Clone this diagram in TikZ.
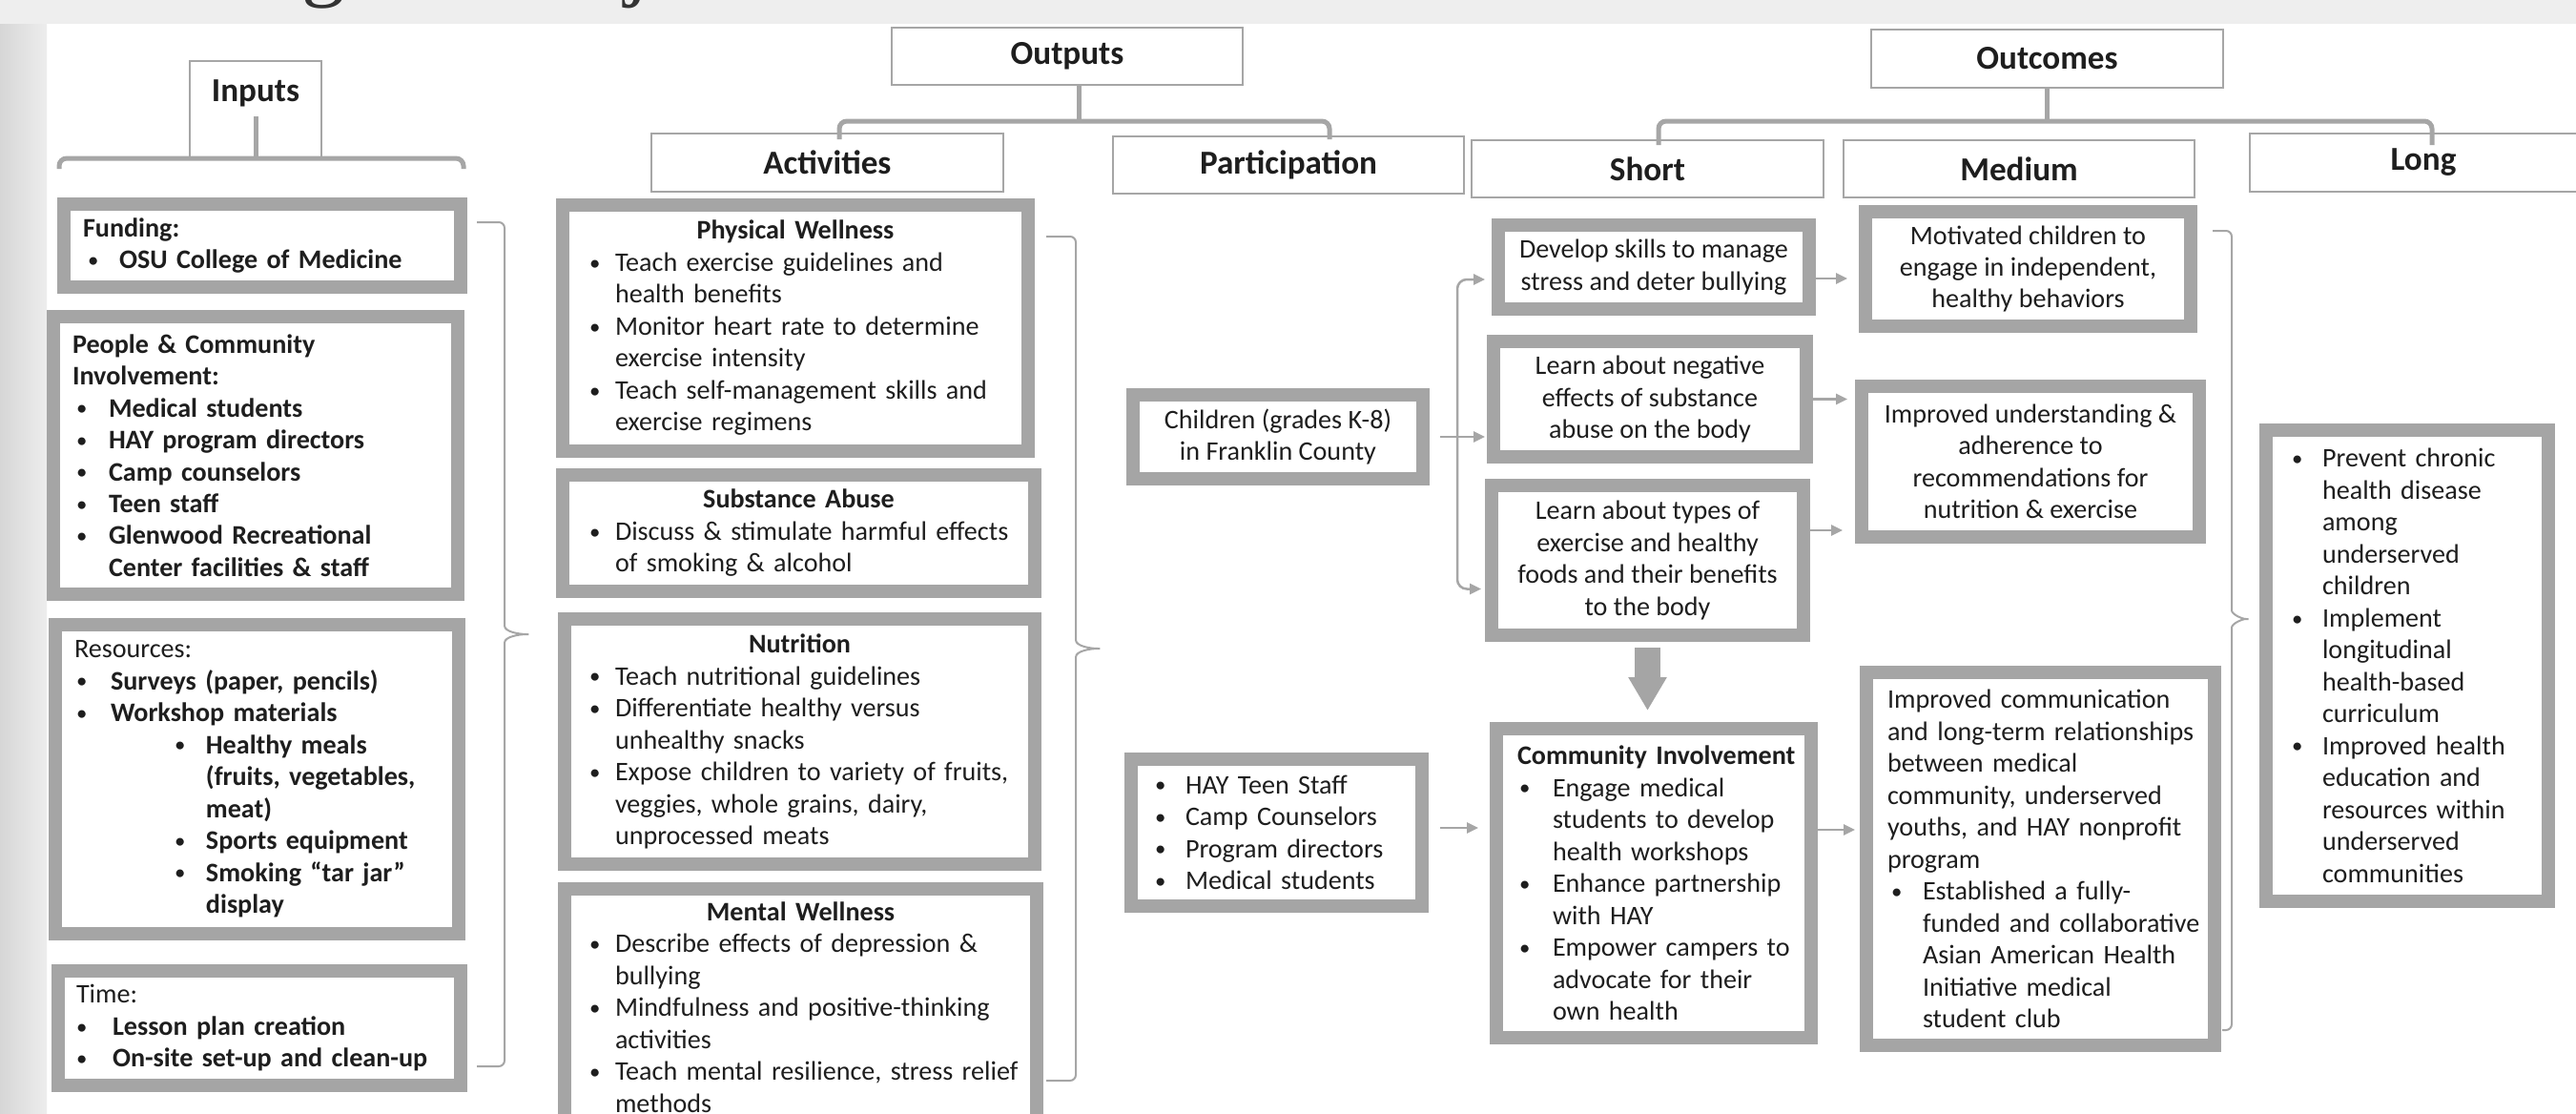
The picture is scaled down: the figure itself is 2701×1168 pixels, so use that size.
\documentclass[tikz,border=0pt]{standalone}
\usepackage{fontspec}
\setmainfont{Carlito}
\newfontfamily\titlefont{Liberation Serif}
\usetikzlibrary{arrows.meta,calc}
\definecolor{boxgrey}{HTML}{A5A5A5}
\definecolor{linegrey}{HTML}{A6A6A6}
\definecolor{bandgrey}{HTML}{EEEEEE}
\definecolor{txt}{HTML}{1E1E1E}
\newcommand{\bodyfont}{\fontsize{8}{9.53}\selectfont}
\newcommand{\bulmark}{\raisebox{0.4pt}{\mdseries\fontsize{6.5}{6.5}\selectfont\textbullet}}
\newcommand{\bul}[3]{\hspace*{#1}\makebox[#2][l]{\bulmark}\mbox{#3}}
\newcommand{\cnt}[2]{\hspace*{#1}\mbox{#2}}

\begin{document}
\begin{tikzpicture}[x=0.1mm, y=-0.1mm,
    headbox/.style={rectangle, draw=linegrey, line width=0.2mm, fill=white, text=txt, font=\fontsize{10}{12}\selectfont\bfseries},
    thickbox/.style={rectangle, draw=boxgrey, line width=1.4mm, fill=white, text=txt, inner sep=0pt, font=\bodyfont},
    leftbox/.style={thickbox, align=left},
    midbox/.style={thickbox, align=center},
    brk/.style={draw=linegrey, line width=0.5mm, rounded corners=0.8mm},
    brace/.style={draw=linegrey, line width=0.2mm, rounded corners=0.6mm},
    conn/.style={draw=linegrey, line width=0.25mm, -{Triangle[length=1.2mm,width=1.1mm]}},
    bigarr/.style={draw=boxgrey, line width=2.7mm, -{Triangle[length=3.5mm,width=3.8mm]}}]

    \useasboundingbox (0,0) rectangle (2701,1168);
    \clip (0,0) rectangle (2701,1168);

    % Background
    \fill[white] (0,0) rectangle (2701,1168);
    \fill[bandgrey] (0,0) rectangle (2701,25);
    \shade[left color=black!16, right color=black!7] (0,25) rectangle (49,1168);
    \node[font=\titlefont\fontsize{26}{26}\selectfont, text=black!80, anchor=base] (tg) at (339,-10) {g};
    \node[font=\titlefont\fontsize{26}{26}\selectfont, text=black!80, anchor=base] (tj) at (668,-10) {j};

    % Headers
    \node[headbox, minimum width=1.38cm, minimum height=1.01cm, text height=7pt, text depth=11.6pt] (inpH) at (268,114.5) {Inputs};
    \node[headbox, minimum width=3.68cm, minimum height=0.60cm] (outH) at (1119,59) {Outputs};
    \node[headbox, minimum width=3.69cm, minimum height=0.61cm] (outcH) at (2146.5,61.5) {Outcomes};
    \node[headbox, minimum width=3.69cm, minimum height=0.61cm] (actH) at (867.5,170.5) {Activities};
    \node[headbox, minimum width=3.68cm, minimum height=0.60cm] (partH) at (1351,173) {Participation};
    \node[headbox, minimum width=3.69cm, minimum height=0.60cm] (shortH) at (1727.5,177) {Short};
    \node[headbox, minimum width=3.68cm, minimum height=0.60cm] (medH) at (2117,177) {Medium};
    \node[headbox, minimum width=3.64cm, minimum height=0.61cm] (longH) at (2541,170.5) {Long};

    % Inputs
    \node[leftbox, minimum width=4.16cm, minimum height=0.87cm, text width=3.76cm] (fund) at (275,257.5) {
        \bfseries Funding:\\
        \bul{0.5mm}{3.3mm}{OSU College of Medicine}};
    \node[leftbox, minimum width=4.24cm, minimum height=2.91cm, text width=3.84cm] (people) at (268,477.5) {
        \bfseries People \& Community\\
        Involvement:\\
        \bul{0.4mm}{3.4mm}{Medical students}\\
        \bul{0.4mm}{3.4mm}{HAY program directors}\\
        \bul{0.4mm}{3.4mm}{Camp counselors}\\
        \bul{0.4mm}{3.4mm}{Teen staff}\\
        \bul{0.4mm}{3.4mm}{Glenwood Recreational}\\
        \cnt{3.8mm}{Center facilities \& staff}};
    \node[leftbox, minimum width=4.23cm, minimum height=3.24cm, text width=3.83cm] (res) at (269.5,817) {
        Resources:\\
        \bfseries\bul{0.2mm}{3.6mm}{Surveys (paper, pencils)}\\
        \bul{0.2mm}{3.6mm}{Workshop materials}\\
        \bul{10.5mm}{3.3mm}{Healthy meals}\\
        \cnt{13.8mm}{(fruits, vegetables,}\\
        \cnt{13.8mm}{meat)}\\
        \bul{10.5mm}{3.3mm}{Sports equipment}\\
        \bul{10.5mm}{3.3mm}{Smoking “tar jar”}\\
        \cnt{13.8mm}{display}};
    \node[leftbox, minimum width=4.22cm, minimum height=1.20cm, text width=3.84cm] (time) at (272,1078) {
        Time:\\
        \bfseries\bul{0mm}{3.8mm}{Lesson plan creation}\\
        \bul{0mm}{3.8mm}{On-site set-up and clean-up}};

    % Activities
    \node[leftbox, minimum width=4.88cm, minimum height=2.58cm, text width=4.40cm] (phys) at (834,344) {
        \makebox[\linewidth]{\bfseries Physical Wellness}\\
        \bul{0.4mm}{2.7mm}{Teach exercise guidelines and}\\
        \cnt{3.1mm}{health benefits}\\
        \bul{0.4mm}{2.7mm}{Monitor heart rate to determine}\\
        \cnt{3.1mm}{exercise intensity}\\
        \bul{0.4mm}{2.7mm}{Teach self-management skills and}\\
        \cnt{3.1mm}{exercise regimens}};
    \node[leftbox, minimum width=4.95cm, minimum height=1.22cm, text width=4.47cm] (subst) at (837.5,559) {
        \makebox[\linewidth]{\bfseries Substance Abuse}\\
        \bul{0.4mm}{2.7mm}{Discuss \& stimulate harmful effects}\\
        \cnt{3.1mm}{of smoking \& alcohol}};
    \node[leftbox, minimum width=4.93cm, minimum height=2.57cm, text width=4.49cm] (nutr) at (838.5,777.5) {
        \makebox[\linewidth]{\bfseries Nutrition}\\
        \bul{0.4mm}{2.7mm}{Teach nutritional guidelines}\\
        \bul{0.4mm}{2.7mm}{Differentiate healthy versus}\\
        \cnt{3.1mm}{unhealthy snacks}\\
        \bul{0.4mm}{2.7mm}{Expose children to variety of fruits,}\\
        \cnt{3.1mm}{veggies, whole grains, dairy,}\\
        \cnt{3.1mm}{unprocessed meats}};
    \node[leftbox, minimum width=4.95cm, minimum height=2.48cm, text width=4.51cm] (mental) at (839.5,1056) {
        \makebox[\linewidth]{\bfseries Mental Wellness}\\
        \bul{0.4mm}{2.7mm}{Describe effects of depression \&}\\
        \cnt{3.1mm}{bullying}\\
        \bul{0.4mm}{2.7mm}{Mindfulness and positive-thinking}\\
        \cnt{3.1mm}{activities}\\
        \bul{0.4mm}{2.7mm}{Teach mental resilience, stress relief}\\
        \cnt{3.1mm}{methods}};

    % Participation
    \node[midbox, minimum width=3.04cm, minimum height=0.88cm] (kids) at (1340,458) {Children (grades K-8)\\in Franklin County};
    \node[leftbox, minimum width=3.05cm, minimum height=1.54cm, text width=2.55cm] (hay) at (1338.5,873) {
        \bul{0mm}{3.2mm}{HAY Teen Staff}\\
        \bul{0mm}{3.2mm}{Camp Counselors}\\
        \bul{0mm}{3.2mm}{Program directors}\\
        \bul{0mm}{3.2mm}{Medical students}};

    % Short
    \node[midbox, minimum width=3.26cm, minimum height=0.88cm] (dev) at (1734,280) {Develop skills to manage\\stress and deter bullying};
    \node[midbox, minimum width=3.28cm, minimum height=1.21cm] (neg) at (1730,418.5) {Learn about negative\\effects of substance\\abuse on the body};
    \node[midbox, minimum width=3.27cm, minimum height=1.57cm] (types) at (1727.5,587.5) {Learn about types of\\exercise and healthy\\foods and their benefits\\to the body};
    \node[leftbox, minimum width=3.30cm, minimum height=3.24cm, text width=2.86cm] (comm) at (1734,926) {
        \mbox{\bfseries Community Involvement}\\
        \bul{0.2mm}{3.5mm}{Engage medical}\\
        \cnt{3.7mm}{students to develop}\\
        \cnt{3.7mm}{health workshops}\\
        \bul{0.2mm}{3.5mm}{Enhance partnership}\\
        \cnt{3.7mm}{with HAY}\\
        \bul{0.2mm}{3.5mm}{Empower campers to}\\
        \cnt{3.7mm}{advocate for their}\\
        \cnt{3.7mm}{own health}};

    % Medium
    \node[midbox, minimum width=3.41cm, minimum height=1.20cm] (motiv) at (2126.5,282) {Motivated children to\\engage in independent,\\healthy behaviors};
    \node[midbox, minimum width=3.54cm, minimum height=1.58cm] (impu) at (2129,484) {Improved understanding \&\\adherence to\\recommendations for\\nutrition \& exercise};
    \node[leftbox, minimum width=3.65cm, minimum height=3.91cm, text width=3.21cm] (impc) at (2139.5,900.5) {
        \cnt{0mm}{Improved communication}\\
        \cnt{0mm}{and long-term relationships}\\
        \cnt{0mm}{between medical}\\
        \cnt{0mm}{community, underserved}\\
        \cnt{0mm}{youths, and HAY nonprofit}\\
        \cnt{0mm}{program}\\
        \bul{0.4mm}{3.3mm}{Established a fully-}\\
        \cnt{3.7mm}{funded and collaborative}\\
        \cnt{3.7mm}{Asian American Health}\\
        \cnt{3.7mm}{Initiative medical}\\
        \cnt{3.7mm}{student club}};

    % Long
    \node[leftbox, minimum width=2.96cm, minimum height=4.94cm, text width=2.42cm] (long) at (2524,698) {
        \bul{0mm}{3.2mm}{Prevent chronic}\\
        \cnt{3.2mm}{health disease}\\
        \cnt{3.2mm}{among}\\
        \cnt{3.2mm}{underserved}\\
        \cnt{3.2mm}{children}\\
        \bul{0mm}{3.2mm}{Implement}\\
        \cnt{3.2mm}{longitudinal}\\
        \cnt{3.2mm}{health-based}\\
        \cnt{3.2mm}{curriculum}\\
        \bul{0mm}{3.2mm}{Improved health}\\
        \cnt{3.2mm}{education and}\\
        \cnt{3.2mm}{resources within}\\
        \cnt{3.2mm}{underserved}\\
        \cnt{3.2mm}{communities}};

    % Brackets
    \coordinate (inL) at (62,177);
    \coordinate (inR) at (486,177);
    \coordinate (outJ) at (1131,127);
    \coordinate (ocJ) at (2146,127);
    \draw[brk] (inL) |- (inpH.south) -| (inR);
    \draw[brk] ([yshift=4.4mm]inpH.south) -- (inpH.south);
    \draw[brk] (outH.south -| outJ) -- (outJ);
    \draw[brk] ([xshift=1.25mm,yshift=-0.7mm]actH.north) |- (outJ) -| ([xshift=4.3mm,yshift=-0.4mm]partH.north);
    \draw[brk] (outcH.south -| ocJ) -- (ocJ);
    \draw[brk] ([xshift=1.15mm,yshift=-0.6mm]shortH.north) |- (ocJ) -| ([xshift=0.9mm,yshift=-1.3mm]longH.north);

    % Braces
    \draw[brace] (500,233) -| (529,650) to[out=-90,in=180] (558,665) to[out=180,in=90] (529,680) |- (500,1118);
    \draw[brace] (1097,248) -| (1128,665) to[out=-90,in=180] (1157,680) to[out=180,in=90] (1128,695) |- (1097,1133);
    \draw[brace] (2320,242) -| (2340,634) to[out=-90,in=180] (2361,649) to[out=180,in=90] (2340,664) |- (2330,1080);

    % Arrows
    \coordinate (kb) at ($(kids.east)+(29,0)$);
    \draw[conn, shorten <=1.1mm, shorten >=0.2mm] (kids.east) -- (kids.east -| neg.west);
    \draw[conn, rounded corners=1mm, shorten >=0.7mm] (kb) |- ([yshift=-1.3mm]dev.west);
    \draw[conn, rounded corners=1mm, shorten >=0.4mm] (kb) |- ([yshift=-3mm]types.west);
    \draw[conn, shorten >=1.2mm] ([yshift=-1.2mm]dev.east) -- ([yshift=-1.2mm]dev.east -| motiv.west);
    \draw[conn, shorten >=0.8mm] (neg.east) -- (neg.east -| impu.west);
    \draw[conn, shorten >=1.3mm] ([yshift=3.15mm]types.east) -- ([yshift=3.15mm]types.east -| impu.west);
    \draw[conn, shorten <=1.2mm, shorten >=1.2mm] ([yshift=0.5mm]hay.east) -- ([yshift=0.5mm]hay.east -| comm.west);
    \draw[conn, shorten >=0.5mm] ([yshift=5.6mm]comm.east) -- ([yshift=5.6mm]comm.east -| impc.west);
    \draw[bigarr, shorten <=0.6mm, shorten >=1.2mm] (types.south) -- (types.south |- comm.north);

\end{tikzpicture}
\end{document}
